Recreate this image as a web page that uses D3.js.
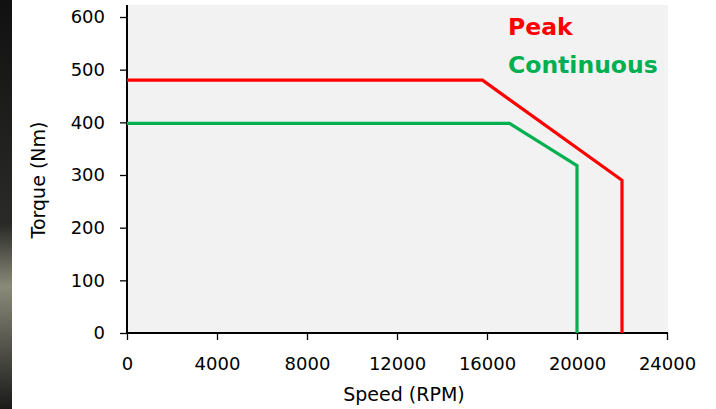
<!DOCTYPE html>
<html>
<head>
<meta charset="utf-8">
<script src="https://cdn.jsdelivr.net/npm/d3@7"></script>
<style>
  body { margin: 0; background: #fff; }
  svg { display: block; }
</style>
</head>
<body>
<svg id="chart" width="716" height="409"></svg>
<script>
// curve points
const peakSpeed = [0, 15800, 22000, 22000];
const peakTorque = [480, 480, 290, 0];
const contSpeed = [0, 17000, 20000, 20000];
const contTorque = [398, 398, 318, 0];
const xTicks = [0, 4000, 8000, 12000, 16000, 20000, 24000];
const yTicks = [0, 100, 200, 300, 400, 500, 600];
const seriesNames = ["Peak", "Continuous"];
const seriesColors = ["#ff0000", "#00b050"];

const svg = d3.select("#chart");
const plotLeft = 127, plotRight = 668, plotTop = 5, plotBottom = 333;

const x = d3.scaleLinear().domain([0, 24000]).range([plotLeft, 667]);
const y = d3.scaleLinear().domain([0, 600]).range([plotBottom, 17]);

// dark photo strip on the far left
const grad = svg.append("defs").append("linearGradient")
  .attr("id", "strip").attr("x1", 0).attr("y1", 0).attr("x2", 0).attr("y2", 1);
grad.append("stop").attr("offset", "0%").attr("stop-color", "#111");
grad.append("stop").attr("offset", "55%").attr("stop-color", "#2a2a28");
grad.append("stop").attr("offset", "70%").attr("stop-color", "#8a8a7a");
grad.append("stop").attr("offset", "100%").attr("stop-color", "#1a1a1a");
svg.append("rect").attr("x", 0).attr("y", 0).attr("width", 12).attr("height", 409)
  .attr("fill", "url(#strip)");

// plot background
svg.append("rect")
  .attr("x", plotLeft).attr("y", plotTop)
  .attr("width", plotRight - plotLeft).attr("height", plotBottom - plotTop)
  .attr("fill", "#f2f2f2");

const font = "'DejaVu Sans', Verdana, sans-serif";

// axes
const xAxis = svg.append("g")
  .attr("transform", "translate(0," + plotBottom + ")")
  .call(d3.axisBottom(x).tickValues(xTicks).tickSize(7).tickPadding(17).tickFormat(d3.format("d")));
const yAxis = svg.append("g")
  .attr("transform", "translate(" + plotLeft + ",0)")
  .call(d3.axisLeft(y).tickValues(yTicks).tickSize(7).tickPadding(15).tickFormat(d3.format("d")));

[xAxis, yAxis].forEach(g => {
  g.select(".domain").remove();
  g.selectAll("line").attr("stroke", "#000").attr("stroke-width", 1.3);
  g.selectAll("text").attr("fill", "#000").style("font-family", font).style("font-size", "18px");
});

svg.append("line").attr("x1", plotLeft).attr("x2", plotLeft).attr("y1", plotTop).attr("y2", plotBottom)
  .attr("stroke", "#000").attr("stroke-width", 2);
svg.append("line").attr("x1", plotLeft).attr("x2", plotRight).attr("y1", plotBottom).attr("y2", plotBottom)
  .attr("stroke", "#000").attr("stroke-width", 2);

// curves
const line = d3.line().x(d => x(d[0])).y(d => y(d[1]));
const series = [
  d3.zip(peakSpeed, peakTorque),
  d3.zip(contSpeed, contTorque)
];
svg.selectAll(".curve")
  .data(series)
  .enter()
  .append("path")
  .attr("class", "curve")
  .attr("d", line)
  .attr("fill", "none")
  .attr("stroke", (d, i) => seriesColors[i])
  .attr("stroke-width", 3.2);

// legend labels
svg.selectAll(".legend")
  .data(seriesNames)
  .enter()
  .append("text")
  .attr("x", 508)
  .attr("y", (d, i) => 35 + i * 38)
  .attr("fill", (d, i) => seriesColors[i])
  .style("font-family", font)
  .style("font-size", "23.5px")
  .style("font-weight", "bold")
  .text(d => d);

// axis titles
svg.append("text")
  .attr("x", 404).attr("y", 401)
  .attr("text-anchor", "middle")
  .style("font-family", font).style("font-size", "19px")
  .text("Speed (RPM)");
svg.append("text")
  .attr("transform", "translate(45,180) rotate(-90)")
  .attr("text-anchor", "middle")
  .style("font-family", font).style("font-size", "19px")
  .text("Torque (Nm)");
</script>
</body>
</html>
